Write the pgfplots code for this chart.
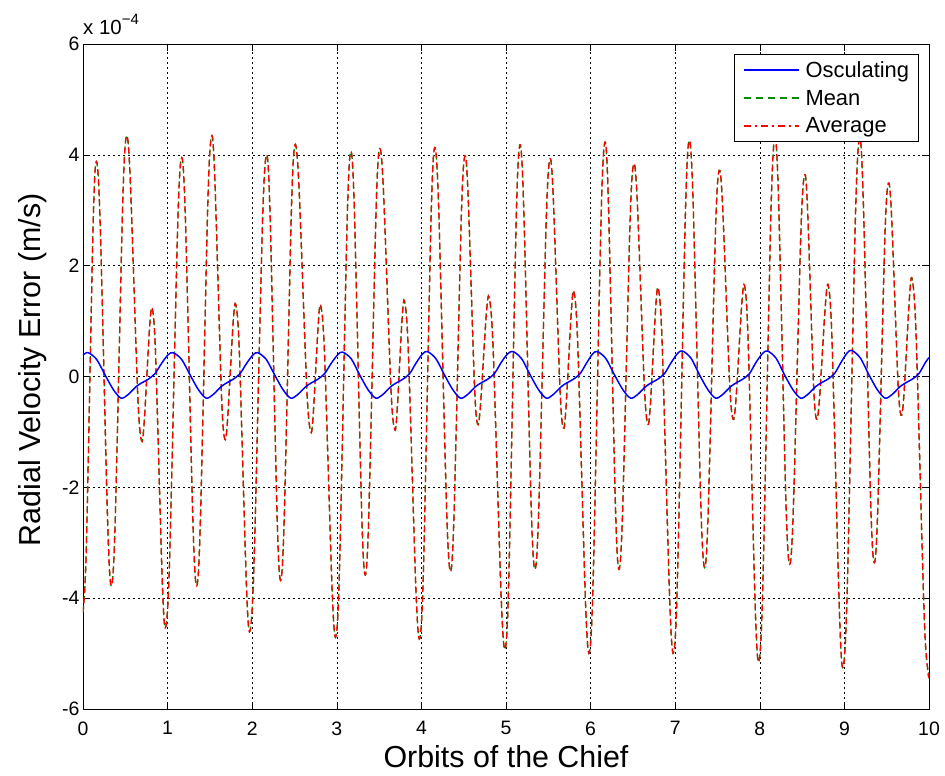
\documentclass[border=0pt]{standalone}
\usepackage{fontspec}
\setmainfont{Liberation Sans}
\usepackage{pgfplots}
\pgfplotsset{compat=1.18}
\definecolor{mgreen}{rgb}{0,0.55,0}
\begin{document}
\begin{tikzpicture}
\begin{axis}[
 scale only axis, width=846bp, height=665bp,
 xmin=0,xmax=10,ymin=-6,ymax=6,
 xtick={0,1,...,10}, ytick={-6,-4,...,6},
 grid=major, major grid style={black, line width=0.5pt, dash pattern=on 2bp off 3bp},
 tick align=inside, major tick length=7bp,
 axis line style={black, line width=0.8pt},
 tick style={black, line width=0.6pt},
 ticklabel style={font=\fontsize{19.5}{23}\selectfont},
 xticklabel style={yshift=-9bp},
 /pgf/number format/assume math mode=true,
 xlabel={Orbits of the Chief}, ylabel={Radial Velocity Error (m/s)},
 label style={font=\fontsize{30.5}{36}\selectfont},
 xlabel style={at={(axis description cs:0.5,-0.0887)}, anchor=base},
 ylabel style={at={(axis description cs:-0.0508,0.51)}, anchor=base},
 clip mode=individual,
 legend style={at={(1,1)}, anchor=north east, xshift=-10bp, yshift=-10bp,
   font=\fontsize{22}{26}\selectfont, draw=black, line width=0.8pt,
   inner xsep=9bp, inner ysep=6.5bp, row sep=10bp,
   nodes={inner sep=0.5bp}, /tikz/every odd column/.append style={column sep=5bp}},
 legend cell align=left,
]
\addlegendimage{legend image code/.code={\draw[draw=blue, line width=1.5pt] (0bp,0bp) -- (55bp,0bp);}}
\addlegendentry{\vphantom{Og}Osculating}
\addlegendimage{legend image code/.code={\draw[draw=mgreen, line width=1.4pt, dash pattern=on 7bp off 5bp] (0bp,0bp) -- (55bp,0bp);}}
\addlegendentry{\vphantom{Og}Mean}
\addlegendimage{legend image code/.code={\draw[draw=red, line width=1.3pt, dash pattern=on 7bp off 4bp on 2bp off 4bp] (0bp,0bp) -- (55bp,0bp);}}
\addlegendentry{\vphantom{Og}Average}

\addplot[forget plot, mgreen, line width=1.3pt, dash pattern=on 6bp off 4bp, smooth] table {
x y
0.000 -4.25
0.040 -3.06
0.119 2.69
0.158 3.88
0.203 2.76
0.292 -2.66
0.336 -3.78
0.381 -2.59
0.470 3.15
0.514 4.34
0.559 3.54
0.648 -0.36
0.692 -1.16
0.724 -0.81
0.787 0.88
0.818 1.23
0.858 0.39
0.937 -3.69
0.976 -4.53
1.024 -3.29
1.119 2.71
1.166 3.95
1.211 2.82
1.300 -2.65
1.344 -3.78
1.388 -2.59
1.476 3.15
1.520 4.34
1.559 3.54
1.637 -0.33
1.676 -1.13
1.709 -0.78
1.774 0.95
1.806 1.30
1.848 0.44
1.931 -3.74
1.972 -4.60
2.022 -3.34
2.121 2.74
2.170 4.00
2.212 2.88
2.295 -2.56
2.336 -3.68
2.379 -2.53
2.464 3.03
2.506 4.18
2.553 3.42
2.646 -0.24
2.692 -1.00
2.722 -0.67
2.781 0.95
2.810 1.28
2.855 0.41
2.944 -3.83
2.988 -4.70
3.033 -3.42
3.122 2.78
3.166 4.06
3.209 2.94
3.294 -2.46
3.336 -3.58
3.379 -2.46
3.464 2.99
3.506 4.11
3.551 3.37
3.640 -0.22
3.684 -0.96
3.713 -0.62
3.771 1.02
3.800 1.36
3.845 0.47
3.935 -3.84
3.980 -4.73
4.025 -3.44
4.114 2.84
4.158 4.13
4.205 3.01
4.298 -2.40
4.344 -3.52
4.387 -2.43
4.472 2.89
4.514 3.98
4.552 3.27
4.627 -0.15
4.664 -0.86
4.698 -0.53
4.766 1.10
4.800 1.43
4.848 0.50
4.943 -3.99
4.990 -4.92
5.034 -3.59
5.121 2.85
5.165 4.18
5.209 3.06
5.298 -2.36
5.342 -3.48
5.387 -2.40
5.476 2.85
5.520 3.93
5.559 3.22
5.638 -0.22
5.677 -0.93
5.709 -0.57
5.772 1.17
5.803 1.53
5.848 0.58
5.939 -4.04
5.984 -4.99
6.031 -3.64
6.124 2.88
6.170 4.23
6.211 3.10
6.294 -2.35
6.335 -3.48
6.379 -2.41
6.466 2.77
6.510 3.84
6.552 3.15
6.635 -0.17
6.676 -0.86
6.707 -0.50
6.769 1.23
6.800 1.59
6.845 0.63
6.935 -4.03
6.980 -4.99
7.027 -3.64
7.120 2.91
7.166 4.26
7.212 3.13
7.303 -2.32
7.348 -3.45
7.391 -2.40
7.477 2.67
7.520 3.72
7.561 3.06
7.643 -0.11
7.684 -0.77
7.718 -0.42
7.786 1.29
7.820 1.64
7.862 0.65
7.946 -4.16
7.988 -5.15
8.036 -3.77
8.131 2.92
8.178 4.30
8.222 3.18
8.309 -2.27
8.353 -3.39
8.397 -2.36
8.486 2.61
8.530 3.64
8.565 3.00
8.635 -0.13
8.670 -0.77
8.705 -0.42
8.775 1.29
8.810 1.64
8.854 0.63
8.941 -4.24
8.984 -5.25
9.033 -3.86
9.131 2.91
9.180 4.30
9.223 3.18
9.310 -2.24
9.353 -3.36
9.395 -2.36
9.478 2.49
9.520 3.49
9.558 2.88
9.633 -0.09
9.670 -0.70
9.703 -0.34
9.768 1.40
9.800 1.76
9.848 0.72
9.943 -4.31
9.990 -5.35
10.000 -5.33
};

\addplot[forget plot, red, line width=1.3pt, dash pattern=on 6bp off 4bp, dash phase=1.2bp, smooth] table {
x y
0.000 -4.25
0.040 -3.06
0.119 2.69
0.158 3.88
0.203 2.76
0.292 -2.66
0.336 -3.78
0.381 -2.59
0.470 3.15
0.514 4.34
0.559 3.54
0.648 -0.36
0.692 -1.16
0.724 -0.81
0.787 0.88
0.818 1.23
0.858 0.39
0.937 -3.69
0.976 -4.53
1.024 -3.29
1.119 2.71
1.166 3.95
1.211 2.82
1.300 -2.65
1.344 -3.78
1.388 -2.59
1.476 3.15
1.520 4.34
1.559 3.54
1.637 -0.33
1.676 -1.13
1.709 -0.78
1.774 0.95
1.806 1.30
1.848 0.44
1.931 -3.74
1.972 -4.60
2.022 -3.34
2.121 2.74
2.170 4.00
2.212 2.88
2.295 -2.56
2.336 -3.68
2.379 -2.53
2.464 3.03
2.506 4.18
2.553 3.42
2.646 -0.24
2.692 -1.00
2.722 -0.67
2.781 0.95
2.810 1.28
2.855 0.41
2.944 -3.83
2.988 -4.70
3.033 -3.42
3.122 2.78
3.166 4.06
3.209 2.94
3.294 -2.46
3.336 -3.58
3.379 -2.46
3.464 2.99
3.506 4.11
3.551 3.37
3.640 -0.22
3.684 -0.96
3.713 -0.62
3.771 1.02
3.800 1.36
3.845 0.47
3.935 -3.84
3.980 -4.73
4.025 -3.44
4.114 2.84
4.158 4.13
4.205 3.01
4.298 -2.40
4.344 -3.52
4.387 -2.43
4.472 2.89
4.514 3.98
4.552 3.27
4.627 -0.15
4.664 -0.86
4.698 -0.53
4.766 1.10
4.800 1.43
4.848 0.50
4.943 -3.99
4.990 -4.92
5.034 -3.59
5.121 2.85
5.165 4.18
5.209 3.06
5.298 -2.36
5.342 -3.48
5.387 -2.40
5.476 2.85
5.520 3.93
5.559 3.22
5.638 -0.22
5.677 -0.93
5.709 -0.57
5.772 1.17
5.803 1.53
5.848 0.58
5.939 -4.04
5.984 -4.99
6.031 -3.64
6.124 2.88
6.170 4.23
6.211 3.10
6.294 -2.35
6.335 -3.48
6.379 -2.41
6.466 2.77
6.510 3.84
6.552 3.15
6.635 -0.17
6.676 -0.86
6.707 -0.50
6.769 1.23
6.800 1.59
6.845 0.63
6.935 -4.03
6.980 -4.99
7.027 -3.64
7.120 2.91
7.166 4.26
7.212 3.13
7.303 -2.32
7.348 -3.45
7.391 -2.40
7.477 2.67
7.520 3.72
7.561 3.06
7.643 -0.11
7.684 -0.77
7.718 -0.42
7.786 1.29
7.820 1.64
7.862 0.65
7.946 -4.16
7.988 -5.15
8.036 -3.77
8.131 2.92
8.178 4.30
8.222 3.18
8.309 -2.27
8.353 -3.39
8.397 -2.36
8.486 2.61
8.530 3.64
8.565 3.00
8.635 -0.13
8.670 -0.77
8.705 -0.42
8.775 1.29
8.810 1.64
8.854 0.63
8.941 -4.24
8.984 -5.25
9.033 -3.86
9.131 2.91
9.180 4.30
9.223 3.18
9.310 -2.24
9.353 -3.36
9.395 -2.36
9.478 2.49
9.520 3.49
9.558 2.88
9.633 -0.09
9.670 -0.70
9.703 -0.34
9.768 1.40
9.800 1.76
9.848 0.72
9.943 -4.31
9.990 -5.35
10.000 -5.33
};

\addplot[forget plot, blue, line width=1.5pt, smooth] table {
x y
0.000 0.39
0.060 0.43
0.160 0.31
0.260 0.03
0.360 -0.24
0.450 -0.39
0.530 -0.33
0.630 -0.18
0.700 -0.11
0.770 -0.05
0.850 0.05
0.930 0.24
1.005 0.39
1.065 0.43
1.165 0.31
1.265 0.03
1.365 -0.24
1.455 -0.39
1.535 -0.33
1.635 -0.18
1.705 -0.11
1.775 -0.05
1.855 0.05
1.935 0.24
2.010 0.39
2.065 0.43
2.165 0.31
2.265 0.03
2.365 -0.24
2.455 -0.39
2.535 -0.33
2.635 -0.18
2.705 -0.11
2.775 -0.05
2.855 0.05
2.935 0.24
3.015 0.40
3.070 0.44
3.170 0.32
3.270 0.03
3.370 -0.24
3.460 -0.39
3.540 -0.33
3.640 -0.18
3.710 -0.11
3.780 -0.05
3.860 0.05
3.940 0.25
4.015 0.41
4.072 0.45
4.172 0.32
4.272 0.03
4.372 -0.24
4.462 -0.39
4.542 -0.33
4.642 -0.18
4.712 -0.11
4.782 -0.05
4.862 0.05
4.942 0.25
5.020 0.41
5.085 0.45
5.185 0.32
5.285 0.03
5.385 -0.24
5.475 -0.39
5.555 -0.33
5.655 -0.18
5.725 -0.11
5.795 -0.05
5.875 0.05
5.955 0.25
6.025 0.41
6.082 0.45
6.182 0.32
6.282 0.03
6.382 -0.24
6.472 -0.39
6.552 -0.33
6.652 -0.18
6.722 -0.11
6.792 -0.05
6.872 0.05
6.952 0.25
7.030 0.42
7.087 0.46
7.187 0.33
7.287 0.03
7.387 -0.24
7.477 -0.39
7.557 -0.33
7.657 -0.18
7.727 -0.11
7.797 -0.05
7.877 0.05
7.957 0.26
8.035 0.42
8.092 0.46
8.192 0.33
8.292 0.03
8.392 -0.24
8.482 -0.39
8.562 -0.33
8.662 -0.18
8.732 -0.11
8.802 -0.05
8.882 0.05
8.962 0.26
9.035 0.43
9.090 0.47
9.190 0.33
9.290 0.03
9.390 -0.24
9.480 -0.39
9.560 -0.33
9.660 -0.18
9.730 -0.11
9.800 -0.05
9.880 0.05
9.960 0.26
10.000 0.34
};
\node[anchor=base west, inner sep=0pt, font=\fontsize{20.5}{24}\selectfont] at ([yshift=9bp]rel axis cs:0,1) {x 10\raisebox{10bp}{\fontsize{15}{15}\selectfont −4}};
\end{axis}
\pgfresetboundingbox
\path[use as bounding box] ([xshift=-83bp,yshift=-67bp]current axis.south west) rectangle ([xshift=16bp,yshift=44bp]current axis.north east);
\end{tikzpicture}
\end{document}
